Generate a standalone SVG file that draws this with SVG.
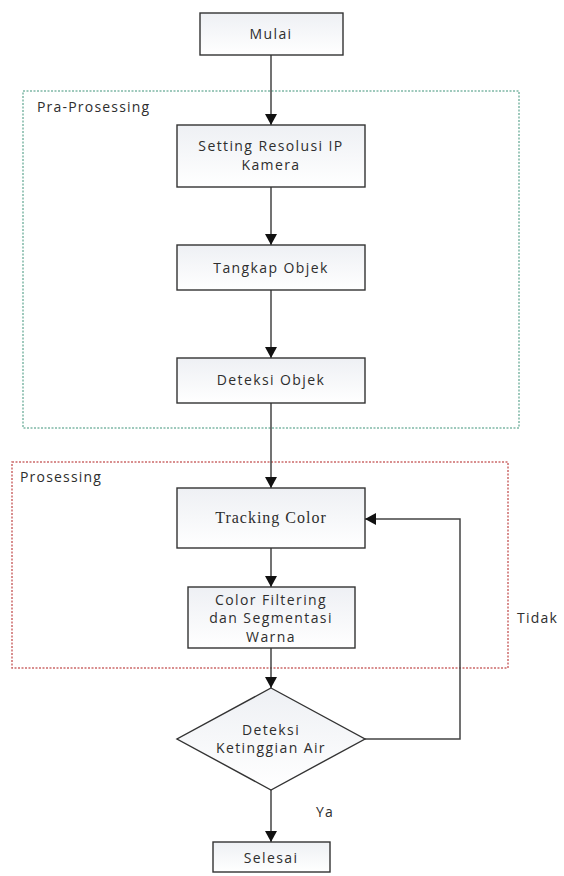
<svg xmlns="http://www.w3.org/2000/svg" width="564" height="876" viewBox="0 0 564 876">
  <defs>
    <linearGradient id="boxFill" x1="0" y1="0" x2="0" y2="1">
      <stop offset="0" stop-color="#eef0f4"/>
      <stop offset="1" stop-color="#ffffff"/>
    </linearGradient>
    <marker id="arrow" viewBox="0 0 11 12" refX="11" refY="6" markerWidth="11" markerHeight="12" markerUnits="userSpaceOnUse" orient="auto">
      <path d="M0,0 L11,6 L0,12 z" fill="#111"/>
    </marker>
    <style>
      .box { fill: url(#boxFill); stroke: #333; stroke-width: 1.4; }
      .lbl { font-family: "Open Sans", "DejaVu Sans", sans-serif; font-size: 14px; fill: #2e2e2e; text-anchor: middle; letter-spacing: 1.4px; }
      .serif { font-family: "Liberation Serif", "Times New Roman", serif; font-size: 16px; fill: #2e2e2e; text-anchor: middle; letter-spacing: 1px; }
      .side { font-family: "Open Sans", "DejaVu Sans", sans-serif; font-size: 14px; fill: #2e2e2e; letter-spacing: 1.2px; }
      .conn { fill: none; stroke: #444; stroke-width: 1.5; marker-end: url(#arrow); }
      .zoneA { fill: none; stroke: #7fb8a6; stroke-width: 1.5; stroke-dasharray: 2 1.5; }
      .zoneB { fill: none; stroke: #cc6a6a; stroke-width: 1.5; stroke-dasharray: 2 1.5; }
    </style>
  </defs>
  <rect width="564" height="876" fill="#ffffff"/>

  <!-- stage frames -->
  <g id="pra-prosessing">
    <rect class="zoneA" x="23" y="91" width="496" height="337"/>
    <text class="side" x="37" y="112">Pra-Prosessing</text>
  </g>
  <g id="prosessing">
    <rect class="zoneB" x="12" y="462" width="496" height="206"/>
    <text class="side" x="20" y="482">Prosessing</text>
  </g>

  <!-- connectors -->
  <g id="connectors">
    <line class="conn" x1="271" y1="55" x2="271" y2="125"/>
    <line class="conn" x1="271" y1="187" x2="271" y2="245"/>
    <line class="conn" x1="271" y1="290" x2="271" y2="358"/>
    <line class="conn" x1="271" y1="403" x2="271" y2="488"/>
    <line class="conn" x1="271" y1="548" x2="271" y2="587"/>
    <line class="conn" x1="271" y1="648" x2="271" y2="688"/>
    <line class="conn" x1="271" y1="790" x2="271" y2="842"/>
    <polyline class="conn" points="365,739 460,739 460,519 365,519"/>
    <text class="side" x="316" y="817">Ya</text>
    <text class="side" x="517" y="623">Tidak</text>
  </g>

  <!-- nodes -->
  <g id="mulai">
    <rect class="box" x="200" y="13" width="143" height="42"/>
    <text class="lbl" x="271" y="39">Mulai</text>
  </g>
  <g id="setting-resolusi">
    <rect class="box" x="177" y="125" width="188" height="62"/>
    <text class="lbl" x="271" y="151">Setting Resolusi IP</text>
    <text class="lbl" x="271" y="170">Kamera</text>
  </g>
  <g id="tangkap-objek">
    <rect class="box" x="177" y="245" width="188" height="45"/>
    <text class="lbl" x="271" y="273">Tangkap Objek</text>
  </g>
  <g id="deteksi-objek">
    <rect class="box" x="177" y="358" width="188" height="45"/>
    <text class="lbl" x="271" y="385">Deteksi Objek</text>
  </g>
  <g id="tracking-color">
    <rect class="box" x="177" y="488" width="188" height="60"/>
    <text class="serif" x="271" y="523">Tracking Color</text>
  </g>
  <g id="color-filtering">
    <rect class="box" x="188" y="587" width="167" height="61"/>
    <text class="lbl" x="271" y="605">Color Filtering</text>
    <text class="lbl" x="271" y="623">dan Segmentasi</text>
    <text class="lbl" x="271" y="642">Warna</text>
  </g>
  <g id="deteksi-ketinggian">
    <polygon class="box" points="271,688 365,739 271,790 177,739"/>
    <text class="lbl" x="271" y="735">Deteksi</text>
    <text class="lbl" x="271" y="753">Ketinggian Air</text>
  </g>
  <g id="selesai">
    <rect class="box" x="213" y="842" width="117" height="30"/>
    <text class="lbl" x="271" y="863">Selesai</text>
  </g>
</svg>
